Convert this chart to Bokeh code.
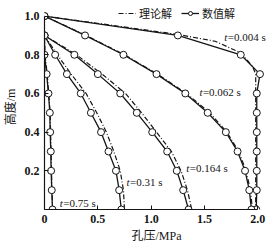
from bokeh.plotting import figure
from bokeh.models import Range1d, FixedTicker, Legend, LegendItem
from bokeh.core.properties import value
from bokeh.embed import file_html
from bokeh.resources import INLINE

# ---- data (pore pressure MPa vs height m) ----
y_full = [1.0, 0.9, 0.8, 0.7, 0.6, 0.5, 0.4, 0.3, 0.2, 0.1, 0.0]
y_low = [0.9, 0.8, 0.7, 0.6, 0.5, 0.4, 0.3, 0.2, 0.1, 0.0]

num_004 = [0.0, 1.25, 1.84, 2.02, 1.99, 1.99, 1.99, 1.99, 1.99, 1.99, 1.985]
num_062 = [0.0, 0.38, 0.74, 1.05, 1.32, 1.53, 1.70, 1.81, 1.88, 1.92, 1.94]
num_164 = [0.0, 0.28, 0.50, 0.71, 0.865, 1.01, 1.15, 1.24, 1.30, 1.35]
num_31 = [0.0, 0.10, 0.21, 0.34, 0.435, 0.53, 0.60, 0.67, 0.70, 0.72]
num_75 = [0.0, 0.0, 0.02, 0.037, 0.05, 0.053, 0.059, 0.062, 0.068, 0.075]

th_004_x = [0.0, 0.6, 1.25, 1.6, 1.84, 1.95, 1.98, 1.98]
th_004_y = [1.0, 0.955, 0.905, 0.87, 0.81, 0.74, 0.70, 0.0]
th_062 = [0.0, 0.39, 0.75, 1.06, 1.33, 1.55, 1.71, 1.82, 1.89, 1.93, 1.95]
th_164 = [0.0, 0.30, 0.54, 0.76, 0.91, 1.05, 1.19, 1.28, 1.34, 1.38]
th_31 = [0.0, 0.12, 0.25, 0.39, 0.49, 0.58, 0.65, 0.71, 0.74, 0.75]
th_75 = [0.0, 0.005, 0.025, 0.04, 0.053, 0.057, 0.062, 0.066, 0.07, 0.077]

x_ticks = [0, 0.5, 1, 1.5, 2]
x_tick_labels = ["0", "0.5", "1.0", "1.5", "2.0"]
y_ticks = [0.2, 0.4, 0.6, 0.8, 1]
y_tick_labels = ["0.2", "0.4", "0.6", "0.8", "1.0"]

time_labels = ["=0.004 s", "=0.062 s", "=0.164 s", "=0.31 s", "=0.75 s"]
label_x = [1.685, 1.452, 1.33, 0.769, 0.143]
label_y = [0.89, 0.61, 0.216, 0.144, 0.032]

legend_labels = ["理论解", "数值解"]
x_title = "孔压/MPa"
y_title = "高度/m"

SERIF = "'Liberation Serif', 'Times New Roman', serif"
MIXED = "'Liberation Serif', 'Noto Sans CJK SC'"
INK = "#151515"

p = figure(width=279, height=247, output_backend="svg", toolbar_location=None,
           x_range=Range1d(0, 2.1), y_range=Range1d(0, 1.06),
           min_border_left=43, min_border_right=11, min_border_top=4, min_border_bottom=38)
p.outline_line_color = None
p.grid.visible = False
p.background_fill_color = "white"

theory_renderers = []
num_renderers = []

def theory(xs, ys):
    r = p.line(xs, ys, line_color=INK, line_width=1.2, line_dash="5 2 1 2")
    theory_renderers.append(r)

def numeric(xs, ys):
    l = p.line(xs, ys, line_color=INK, line_width=1.3)
    s = p.scatter(xs, ys, size=7, marker="circle", fill_color="white", line_color=INK, line_width=1)
    num_renderers.extend([l, s])

theory(th_004_x, th_004_y)
theory(th_062, y_full)
theory(th_164, y_low)
theory(th_31, y_low)
theory(th_75, y_low)

numeric(num_004, y_full)
numeric(num_062, y_full)
numeric(num_164, y_low)
numeric(num_31, y_low)
numeric(num_75, y_low)

# time annotations: italic t + rest
p.text(x=label_x, y=label_y, text=["t"] * len(label_x), text_font=value(SERIF),
       text_font_style="italic", text_font_size="11px", text_baseline="middle", text_color=INK)
p.text(x=label_x, y=label_y, text=time_labels, x_offset=3.5, text_font=value(SERIF),
       text_font_size="11px", text_baseline="middle", text_color=INK)

# axes
for ax in (p.xaxis[0], p.yaxis[0]):
    ax.axis_line_color = INK
    ax.axis_line_width = 1.2
    ax.major_tick_in = 4
    ax.major_tick_out = 0
    ax.minor_tick_in = 0
    ax.minor_tick_out = 0
    ax.major_tick_line_color = INK
    ax.major_label_text_font = SERIF
    ax.major_label_text_font_style = "bold"
    ax.major_label_text_font_size = "12px"
    ax.major_label_text_color = INK
    ax.axis_label_text_font = MIXED
    ax.axis_label_text_font_style = "normal"
    ax.axis_label_text_font_size = "12px"
    ax.axis_label_text_color = INK

p.xaxis.ticker = FixedTicker(ticks=x_ticks)
p.yaxis.ticker = FixedTicker(ticks=y_ticks)
p.xaxis.major_label_overrides = dict(zip(x_ticks, x_tick_labels))
p.yaxis.major_label_overrides = dict(zip(y_ticks, y_tick_labels))
p.xaxis.bounds = (0, 2.0)
p.yaxis.bounds = (0, 1.0)
p.xaxis.axis_label = x_title
p.yaxis.axis_label = y_title
p.xaxis.major_label_standoff = 5
p.yaxis.major_label_standoff = 5
p.xaxis.axis_label_standoff = 3
p.yaxis.axis_label_standoff = 4

legend = Legend(items=[LegendItem(label=legend_labels[0], renderers=[theory_renderers[0]]),
                       LegendItem(label=legend_labels[1], renderers=num_renderers[:2])],
                orientation="horizontal", location=(74, 188),
                glyph_width=18, glyph_height=10, label_standoff=3, spacing=9,
                padding=0, margin=0, border_line_alpha=0, background_fill_alpha=0,
                label_text_font="Noto Sans CJK SC", label_text_font_size="11px",
                label_text_color=INK, label_height=12)
p.add_layout(legend, "center")

open("out.html", "w").write(file_html(p, INLINE))
